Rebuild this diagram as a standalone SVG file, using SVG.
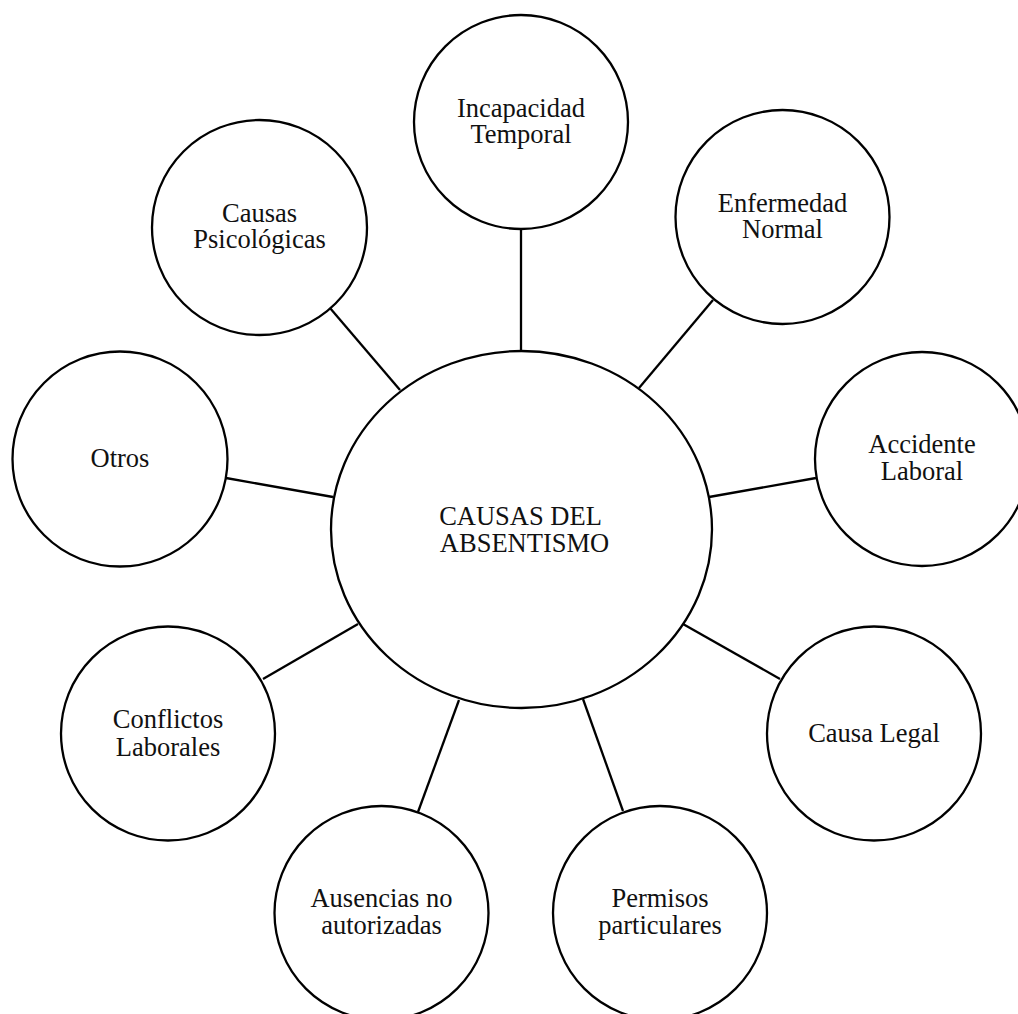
<svg xmlns="http://www.w3.org/2000/svg" width="1018" height="1014" viewBox="0 0 1018 1014">
<style>
.n{fill:#fff;stroke:#000;stroke-width:2.3}
.c line{stroke:#000;stroke-width:2.3}
text{font-family:"Liberation Serif","Times New Roman",serif;font-size:26.5px;fill:#111;text-anchor:middle}
</style>
<rect width="1018" height="1014" fill="#fff"/>
<g class="c" id="connectors">
<line x1="521" y1="229" x2="521" y2="351"/>
<line x1="713" y1="300" x2="639" y2="388"/>
<line x1="709" y1="497" x2="816" y2="478"/>
<line x1="683" y1="624" x2="780" y2="679"/>
<line x1="583" y1="699" x2="623" y2="811"/>
<line x1="459" y1="700" x2="418" y2="812"/>
<line x1="358" y1="624" x2="263" y2="679"/>
<line x1="333" y1="497" x2="226" y2="478"/>
<line x1="400" y1="390" x2="330" y2="308"/>
</g>
<g id="center">
<ellipse class="n" cx="521.5" cy="529.5" rx="190.5" ry="178.5"/>
<text x="520.5" y="525">CAUSAS DEL</text>
<text x="524.5" y="552">ABSENTISMO</text>
</g>
<g id="incapacidad">
<circle class="n" cx="521" cy="122" r="107"/>
<text x="521" y="117">Incapacidad</text>
<text x="521" y="143">Temporal</text>
</g>
<g id="enfermedad">
<circle class="n" cx="782.5" cy="217" r="107"/>
<text x="782.5" y="212">Enfermedad</text>
<text x="782.5" y="238">Normal</text>
</g>
<g id="accidente">
<circle class="n" cx="922" cy="459" r="107"/>
<text x="922" y="453">Accidente</text>
<text x="922" y="480">Laboral</text>
</g>
<g id="legal">
<circle class="n" cx="874" cy="733.5" r="107"/>
<text x="874" y="742">Causa Legal</text>
</g>
<g id="permisos">
<circle class="n" cx="660" cy="913" r="107"/>
<text x="660" y="907">Permisos</text>
<text x="660" y="934">particulares</text>
</g>
<g id="ausencias">
<circle class="n" cx="381.5" cy="913" r="107"/>
<text x="381.5" y="907">Ausencias no</text>
<text x="381.5" y="934">autorizadas</text>
</g>
<g id="conflictos">
<circle class="n" cx="168" cy="733.5" r="107"/>
<text x="168" y="728">Conflictos</text>
<text x="168" y="756">Laborales</text>
</g>
<g id="otros">
<circle class="n" cx="120" cy="459" r="107.5"/>
<text x="120" y="467">Otros</text>
</g>
<g id="psicologicas">
<circle class="n" cx="259.5" cy="227.5" r="107.5"/>
<text x="259.5" y="222">Causas</text>
<text x="259.5" y="248">Psicológicas</text>
</g>
</svg>
